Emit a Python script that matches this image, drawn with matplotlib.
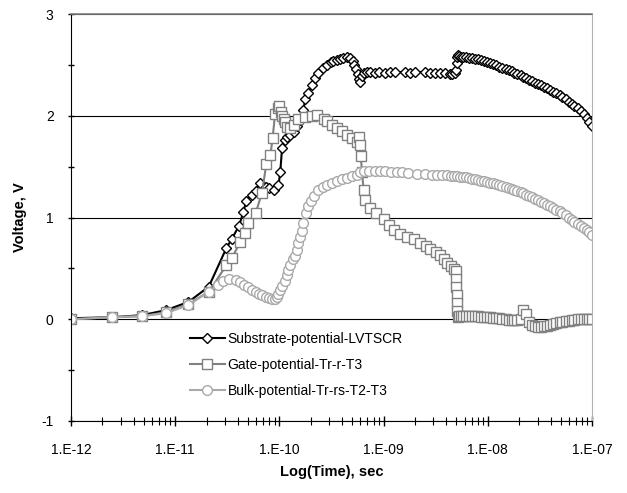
import numpy as np
import matplotlib
matplotlib.use("Agg")
import matplotlib.pyplot as plt
from matplotlib.ticker import LogLocator, NullFormatter, MultipleLocator

plt.rcParams['font.family'] = ['Liberation Sans', 'DejaVu Sans']
plt.rcParams['axes.unicode_minus'] = False

# --- early / middle part of each trace (time in s, voltage in V) ---
t_sub = [1e-12, 2.5e-12, 4.8e-12, 8.2e-12, 1.34e-11, 2.1e-11, 3.1e-11, 3.5e-11,
         4.1e-11, 4.5e-11, 4.8e-11, 5.4e-11, 5.9e-11, 6.5e-11, 7.4e-11, 7.9e-11,
         8.8e-11, 9.8e-11, 1.02e-10, 1.06e-10, 1.14e-10, 1.18e-10, 1.27e-10, 1.37e-10,
         1.47e-10, 1.58e-10, 1.7e-10, 1.77e-10, 1.9e-10, 2.05e-10, 2.21e-10, 2.37e-10,
         2.6e-10, 2.86e-10, 3.1e-10, 3.3e-10, 3.56e-10, 3.8e-10, 4.1e-10, 4.45e-10,
         4.8e-10, 5.05e-10, 5.25e-10, 5.45e-10, 5.65e-10, 5.8e-10, 5.97e-10, 6.19e-10,
         6.5e-10, 6.92e-10, 7.4e-10, 8.3e-10, 9.0e-10, 1.04e-9, 1.15e-9, 1.29e-9,
         1.61e-9, 1.8e-9, 2.01e-9, 2.51e-9, 2.8e-9, 3.14e-9, 3.5e-9, 3.92e-9,
         4.3e-9, 4.57e-9, 4.8e-9, 4.95e-9, 5.05e-9, 5.1e-9, 5.2e-9, 5.35e-9, 5.55e-9]
v_sub = [0.01, 0.02, 0.04, 0.09, 0.17, 0.32, 0.70, 0.79,
         0.92, 1.05, 1.16, 1.22, 1.26, 1.34, 1.30, 1.29,
         1.27, 1.32, 1.45, 1.68, 1.76, 1.79, 1.81, 1.84,
         1.90, 1.96, 2.06, 2.16, 2.22, 2.30, 2.37, 2.42,
         2.47, 2.50, 2.53, 2.54, 2.55, 2.56, 2.57, 2.58,
         2.57, 2.54, 2.50, 2.46, 2.41, 2.36, 2.33, 2.39,
         2.42, 2.43, 2.43, 2.42, 2.43, 2.42, 2.43, 2.43,
         2.43, 2.42, 2.43, 2.43, 2.42, 2.42, 2.42, 2.42,
         2.41, 2.41, 2.42, 2.45, 2.52, 2.58, 2.60, 2.59, 2.58]

t_gate = [1e-12, 2.5e-12, 4.8e-12, 8.2e-12, 1.34e-11, 2.1e-11, 3.1e-11, 3.5e-11,
          4.2e-11, 4.7e-11, 5.0e-11, 5.9e-11, 6.8e-11, 7.5e-11, 8.2e-11, 8.6e-11,
          9.1e-11, 9.6e-11, 1.0e-10, 1.03e-10, 1.06e-10, 1.1e-10, 1.14e-10, 1.18e-10,
          1.27e-10, 1.37e-10, 1.52e-10, 1.77e-10, 2.05e-10, 2.29e-10, 2.65e-10, 2.86e-10,
          3.19e-10, 3.56e-10, 3.95e-10, 4.45e-10, 4.97e-10, 5.5e-10, 5.85e-10, 5.97e-10,
          6.05e-10, 6.2e-10, 6.43e-10, 6.7e-10, 7.4e-10, 8.5e-10, 1.0e-9, 1.12e-9,
          1.25e-9, 1.45e-9, 1.68e-9, 1.94e-9, 2.25e-9, 2.55e-9, 2.81e-9, 3.15e-9,
          3.51e-9, 3.8e-9, 4.07e-9, 4.4e-9, 4.7e-9, 4.9e-9, 4.95e-9, 5.0e-9,
          5.03e-9, 5.07e-9, 5.1e-9, 5.15e-9, 5.25e-9, 5.5e-9]
v_gate = [0.00, 0.02, 0.03, 0.07, 0.15, 0.27, 0.53, 0.60,
          0.76, 0.85, 0.95, 1.04, 1.24, 1.53, 1.61, 1.78,
          2.02, 2.08, 2.10, 2.04, 2.00, 1.97, 1.94, 1.89,
          1.88, 1.91, 1.97, 1.99, 2.00, 2.01, 1.97, 1.95,
          1.91, 1.88, 1.85, 1.81, 1.78, 1.74, 1.79, 1.71,
          1.60, 1.45, 1.27, 1.17, 1.09, 1.04, 0.99, 0.93,
          0.88, 0.84, 0.81, 0.79, 0.75, 0.72, 0.69, 0.66,
          0.63, 0.59, 0.55, 0.52, 0.49, 0.47, 0.40, 0.32,
          0.24, 0.16, 0.08, 0.02, 0.03, 0.03]

t_bulk = [1e-12, 2.5e-12, 4.8e-12, 8.2e-12, 1.34e-11, 2.1e-11, 2.6e-11, 2.9e-11,
          3.3e-11, 3.8e-11, 4.2e-11, 4.6e-11, 5.0e-11, 5.5e-11, 5.9e-11, 6.4e-11,
          6.8e-11, 7.4e-11, 7.9e-11, 8.5e-11, 9.1e-11, 9.5e-11, 9.8e-11, 1.02e-10,
          1.06e-10, 1.12e-10, 1.18e-10, 1.22e-10, 1.27e-10, 1.35e-10, 1.42e-10, 1.47e-10,
          1.52e-10, 1.58e-10, 1.64e-10, 1.7e-10, 1.8e-10, 1.9e-10, 2.0e-10, 2.13e-10,
          2.37e-10, 2.6e-10, 2.86e-10, 3.2e-10, 3.56e-10, 4.0e-10, 4.45e-10, 5.0e-10,
          5.55e-10, 5.97e-10, 6.43e-10, 7.2e-10, 8.3e-10, 9.3e-10, 1.04e-9, 1.17e-9,
          1.34e-9, 1.5e-9, 1.7e-9, 2.09e-9, 2.5e-9, 2.9e-9, 3.26e-9, 3.6e-9,
          4.07e-9, 4.4e-9, 4.7e-9, 5.07e-9, 5.45e-9]
v_bulk = [0.00, 0.02, 0.03, 0.06, 0.14, 0.27, 0.34, 0.38,
          0.40, 0.39, 0.37, 0.34, 0.32, 0.29, 0.27, 0.25,
          0.24, 0.22, 0.21, 0.20, 0.20, 0.22, 0.25, 0.29,
          0.33, 0.38, 0.43, 0.48, 0.53, 0.59, 0.62, 0.68,
          0.75, 0.81, 0.87, 0.95, 1.04, 1.11, 1.16, 1.21,
          1.27, 1.30, 1.32, 1.34, 1.36, 1.38, 1.39, 1.41,
          1.42, 1.45, 1.46, 1.46, 1.46, 1.46, 1.46, 1.45,
          1.45, 1.45, 1.44, 1.43, 1.43, 1.42, 1.42, 1.42,
          1.42, 1.41, 1.41, 1.41, 1.40]

# --- late part, densely sampled (shared time base) ---
t_late = [5.83e-9, 6.23e-9, 6.65e-9, 7.11e-9, 7.60e-9, 8.12e-9, 8.68e-9, 9.27e-9,
          9.91e-9, 1.06e-8, 1.13e-8, 1.21e-8, 1.29e-8, 1.38e-8, 1.48e-8, 1.58e-8,
          1.69e-8, 1.80e-8, 1.92e-8, 2.06e-8, 2.20e-8, 2.35e-8, 2.51e-8, 2.68e-8,
          2.86e-8, 3.06e-8, 3.27e-8, 3.50e-8, 3.74e-8, 3.99e-8, 4.27e-8, 4.56e-8,
          4.88e-8, 5.21e-8, 5.57e-8, 5.95e-8, 6.36e-8, 6.79e-8, 7.26e-8, 7.76e-8,
          8.29e-8, 8.86e-8, 9.46e-8, 1.0e-7]
v_sub_late = [2.58, 2.58, 2.57, 2.57, 2.56, 2.56, 2.55, 2.54,
              2.53, 2.52, 2.51, 2.50, 2.48, 2.47, 2.46, 2.45,
              2.44, 2.42, 2.41, 2.40, 2.38, 2.37, 2.35, 2.34,
              2.32, 2.31, 2.30, 2.28, 2.27, 2.25, 2.23, 2.22,
              2.20, 2.18, 2.16, 2.14, 2.12, 2.10, 2.08, 2.05,
              2.02, 1.98, 1.94, 1.90]
v_gate_late = [0.03, 0.03, 0.03, 0.03, 0.03, 0.03, 0.02, 0.02,
               0.02, 0.02, 0.01, 0.01, 0.01, 0.00, 0.00, -0.01,
               -0.01, -0.01, -0.01, 0.00, 0.09, 0.05, -0.03, -0.06,
               -0.07, -0.08, -0.08, -0.07, -0.07, -0.06, -0.05, -0.04,
               -0.03, -0.03, -0.02, -0.02, -0.01, -0.01, 0.00, 0.00,
               0.00, 0.00, 0.00, 0.00]
v_bulk_late = [1.40, 1.40, 1.39, 1.38, 1.38, 1.37, 1.36, 1.36,
               1.35, 1.34, 1.34, 1.33, 1.32, 1.31, 1.30, 1.29,
               1.28, 1.27, 1.26, 1.25, 1.24, 1.22, 1.21, 1.20,
               1.18, 1.17, 1.15, 1.14, 1.12, 1.11, 1.09, 1.07,
               1.06, 1.04, 1.02, 1.00, 0.98, 0.96, 0.94, 0.92,
               0.90, 0.88, 0.86, 0.83]

labels = ['Substrate-potential-LVTSCR', 'Gate-potential-Tr-r-T3',
          'Bulk-potential-Tr-rs-T2-T3']
xtick_vals = [1e-12, 1e-11, 1e-10, 1e-9, 1e-8, 1e-7]
xtick_labels = ['1.E-12', '1.E-11', '1.E-10', '1.E-09', '1.E-08', '1.E-07']

fig = plt.figure(figsize=(6.27, 4.93), dpi=100)
ax = fig.add_axes([71 / 627, 1 - 421 / 493, 521 / 627, 407 / 493])

ax.plot(t_sub + t_late, v_sub + v_sub_late, color='black', lw=1.5,
        marker='D', ms=5.5, mfc='white', mec='black', mew=1.0, label=labels[0])
ax.plot(t_gate + t_late, v_gate + v_gate_late, color='#808080', lw=1.5,
        marker='s', ms=7, mfc='white', mec='#808080', mew=1.0, label=labels[1])
ax.plot(t_bulk + t_late, v_bulk + v_bulk_late, color='#a9a9a9', lw=1.5,
        marker='o', ms=7, mfc='white', mec='#a9a9a9', mew=1.0, label=labels[2])

ax.set_xscale('log')
ax.set_xlim(1e-12, 1e-7)
ax.set_ylim(-1, 3)
ax.set_xticks(xtick_vals)
ax.set_xticklabels(xtick_labels)
ax.xaxis.set_minor_locator(LogLocator(base=10, subs=np.arange(2, 10)))
ax.xaxis.set_minor_formatter(NullFormatter())
ax.yaxis.set_major_locator(MultipleLocator(1))
ax.yaxis.set_minor_locator(MultipleLocator(0.5))

ax.tick_params(axis='x', which='major', direction='inout', length=7, width=1,
               labelsize=10, pad=12)
ax.tick_params(axis='x', which='minor', direction='inout', length=6, width=0.8)
ax.tick_params(axis='y', which='both', direction='inout', length=5, width=1,
               labelsize=10, pad=10)

ax.yaxis.grid(True, which='major', color='black', lw=0.8)
ax.set_axisbelow(True)
ax.spines['left'].set_color('black')
ax.spines['bottom'].set_color('black')
ax.spines['top'].set_color('#808080')
ax.spines['right'].set_color('#b0b0b0')
ax.spines['top'].set_linewidth(1.2)

ax.set_xlabel('Log(Time), sec', fontsize=10.5, fontweight='bold', labelpad=6)
ax.set_ylabel('Voltage, V', fontsize=10.5, fontweight='bold', labelpad=10)

ax.legend(loc='upper left', bbox_to_anchor=(0.218, 0.232), frameon=False,
          fontsize=10, handlelength=2.5, handletextpad=0.2, labelspacing=0.85,
          borderaxespad=0)

fig.savefig('out.png', dpi=100)
